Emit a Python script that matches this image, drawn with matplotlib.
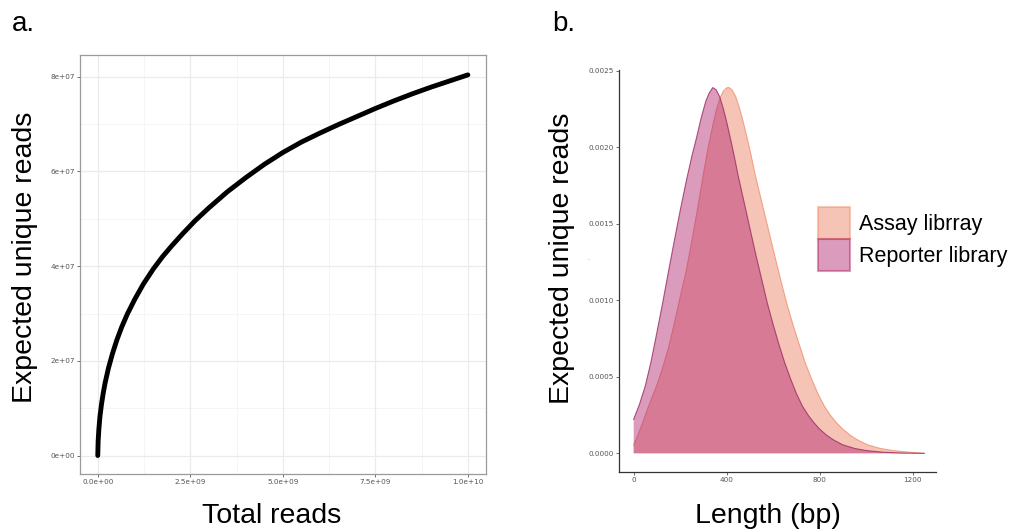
import matplotlib
matplotlib.use("Agg")
import matplotlib.pyplot as plt
from matplotlib.patches import Patch

# ---------------- data ----------------
# panel a: saturation curve (total reads in units of 1e9, unique reads in units of 1e6)
total_reads_1e9 = [0, 0.01, 0.03, 0.06, 0.1, 0.15, 0.2, 0.29, 0.4, 0.52, 0.65, 0.8, 1.0,
                   1.23, 1.5, 1.75, 2.0, 2.3, 2.63, 3.0, 3.5, 4.0, 4.5, 5.0, 5.5, 6.0,
                   6.5, 7.0, 7.5, 8.0, 8.5, 9.0, 9.5, 10.0]
unique_reads_1e6 = [0, 3.0, 5.6, 8.3, 10.8, 13.3, 15.4, 18.5, 21.6, 24.5, 27.2, 29.9, 33.0,
                    36.2, 39.4, 42.0, 44.3, 46.9, 49.6, 52.3, 55.7, 58.7, 61.5, 64.0, 66.2, 68.1,
                    69.9, 71.6, 73.3, 74.9, 76.4, 77.8, 79.1, 80.4]
a_xticks = [0, 2.5e9, 5.0e9, 7.5e9, 1.0e10]
a_xticklabels = ["0.0e+00", "2.5e+09", "5.0e+09", "7.5e+09", "1.0e+10"]
a_yticks = [0, 2e7, 4e7, 6e7, 8e7]
a_yticklabels = ["0e+00", "2e+07", "4e+07", "6e+07", "8e+07"]

# panel b: length distributions (density in units of 1e-3)
reporter_len = [0, 25, 50, 75, 100, 125, 150, 175, 200, 225, 250, 270, 290, 310, 325,
                340, 355, 370, 385, 400, 415, 430, 450, 475, 500, 525, 550, 575, 600,
                625, 650, 675, 700, 725, 750, 775, 800, 830, 860, 900, 950, 1000, 1075,
                1150, 1250]
reporter_dens_1e3 = [0.222, 0.320, 0.440, 0.600, 0.790, 0.985, 1.190, 1.390, 1.585, 1.770,
                     1.940, 2.060, 2.190, 2.300, 2.355, 2.390, 2.375, 2.330, 2.255, 2.165,
                     2.065, 1.960, 1.810, 1.640, 1.470, 1.300, 1.140, 0.980, 0.840, 0.710,
                     0.590, 0.485, 0.390, 0.310, 0.250, 0.200, 0.158, 0.118, 0.087, 0.055,
                     0.032, 0.018, 0.007, 0.002, 0.0]
assay_len = [0, 20, 40, 60, 80, 100, 125, 150, 175, 200, 225, 250, 275, 300, 320, 340,
             355, 370, 385, 400, 410, 423, 439, 455, 471, 487, 503, 524, 551, 578, 605,
             631, 658, 685, 712, 738, 765, 792, 819, 845, 872, 899, 931, 963, 1006, 1059,
             1113, 1193, 1246]
assay_dens_1e3 = [0.054, 0.125, 0.205, 0.290, 0.370, 0.445, 0.560, 0.690, 0.850, 1.020,
                  1.185, 1.385, 1.600, 1.825, 1.995, 2.140, 2.240, 2.315, 2.365, 2.388,
                  2.390, 2.375, 2.330, 2.255, 2.165, 2.065, 1.960, 1.810, 1.640, 1.470,
                  1.300, 1.140, 0.980, 0.840, 0.710, 0.590, 0.485, 0.390, 0.310, 0.250,
                  0.200, 0.158, 0.118, 0.087, 0.055, 0.032, 0.018, 0.006, 0.0]
b_xticks = [0, 400, 800, 1200]
b_yticks = [0.0, 0.0005, 0.0010, 0.0015, 0.0020, 0.0025]
b_yticklabels = ["0.0000", "0.0005", "0.0010", "0.0015", "0.0020", "0.0025"]
legend_labels = ["Assay librray", "Reporter library"]

# ---------------- style ----------------
plt.rcParams['font.family'] = ['Liberation Sans', 'DejaVu Sans']
W, H = 1013, 531
fig = plt.figure(figsize=(W / 100, H / 100), dpi=100)

tick_font = dict(family='DejaVu Sans', size=5.2, color='#555555')
label_size = 20.5

# ---------------- panel a ----------------
axa = fig.add_axes([80 / W, 1 - 474 / H, (486 - 80) / W, (474 - 55) / H])
x_a = [v * 1e9 for v in total_reads_1e9]
y_a = [v * 1e6 for v in unique_reads_1e6]
axa.set_xlim(-0.48e9, 10.49e9)
axa.set_ylim(-3.9e6, 84.6e6)
for xm in [1.25e9, 3.75e9, 6.25e9, 8.75e9]:
    axa.axvline(xm, color='#f4f4f4', lw=0.6, zorder=0)
for ym in [1e7, 3e7, 5e7, 7e7]:
    axa.axhline(ym, color='#f4f4f4', lw=0.6, zorder=0)
for xm in a_xticks:
    axa.axvline(xm, color='#ebebeb', lw=0.9, zorder=0)
for ym in a_yticks:
    axa.axhline(ym, color='#ebebeb', lw=0.9, zorder=0)
axa.plot(x_a, y_a, color='black', lw=3.5, solid_capstyle='round',
         solid_joinstyle='round', zorder=3)
axa.set_xticks(a_xticks)
axa.set_xticklabels(a_xticklabels, fontdict=tick_font)
axa.set_yticks(a_yticks)
axa.set_yticklabels(a_yticklabels, fontdict=tick_font)
axa.tick_params(length=2, width=0.6, color='#555555', pad=1.5)
for s in axa.spines.values():
    s.set_color('#9a9a9a')
    s.set_linewidth(0.9)
fig.text(272 / W, 1 - 516 / H, "Total reads", fontsize=label_size, ha='center', va='center')
fig.text(25 / W, 1 - 257 / H, "Expected unique reads", fontsize=label_size, rotation=90,
         ha='center', va='center')
fig.text(12 / W, 1 - 24 / H, "a.", fontsize=20, ha='left', va='center')

# ---------------- panel b ----------------
axb = fig.add_axes([619 / W, 1 - 472 / H, (936 - 619) / W, (472 - 70) / H])
axb.set_xlim(-63, 1300)
axb.set_ylim(-0.000122, 0.002505)
rep_face = (0.69, 0.13, 0.43)
assay_face = (0.93, 0.49, 0.37)
assay_dens = [v * 1e-3 for v in assay_dens_1e3]
reporter_dens = [v * 1e-3 for v in reporter_dens_1e3]
axb.fill_between(assay_len, assay_dens, 0, facecolor=assay_face, alpha=0.45,
                 edgecolor='none', zorder=2)
axb.plot(assay_len, assay_dens, color='#f0a080', lw=0.8, zorder=2.5)
axb.fill_between(reporter_len, reporter_dens, 0, facecolor=rep_face, alpha=0.45,
                 edgecolor='none', zorder=3)
axb.plot(reporter_len, reporter_dens, color='#9a2c5e', lw=0.8, alpha=0.8, zorder=3.5)
axb.set_xticks(b_xticks)
axb.set_xticklabels([str(v) for v in b_xticks], fontdict=tick_font)
axb.set_yticks(b_yticks)
axb.set_yticklabels(b_yticklabels, fontdict=tick_font)
axb.tick_params(length=2, width=0.6, color='#555555', pad=1.5)
axb.spines['top'].set_visible(False)
axb.spines['right'].set_visible(False)
for s in ['left', 'bottom']:
    axb.spines[s].set_color('#333333')
    axb.spines[s].set_linewidth(0.9)

handles = [Patch(facecolor=assay_face, alpha=0.45, edgecolor='#f08a60', linewidth=1.5),
           Patch(facecolor=rep_face, alpha=0.45, edgecolor='#b0205e', linewidth=1.5)]
fig.legend(handles, legend_labels, loc='upper left', bbox_to_anchor=(803 / W, 1 - 192 / H),
           frameon=False, fontsize=15.5, handlelength=1.49, handleheight=1.9,
           handletextpad=0.4, labelspacing=0.0, borderpad=0.2)

fig.text(768 / W, 1 - 516 / H, "Length (bp)", fontsize=label_size, ha='center', va='center')
fig.text(562 / W, 1 - 258 / H, "Expected unique reads", fontsize=label_size, rotation=90,
         ha='center', va='center')
fig.text(552 / W, 1 - 24 / H, "b.", fontsize=20, ha='left', va='center')
fig.text(588 / W, 1 - 258 / H, ".", fontsize=5, color='#888888', ha='center', va='center')

fig.savefig("out.png", dpi=100)
